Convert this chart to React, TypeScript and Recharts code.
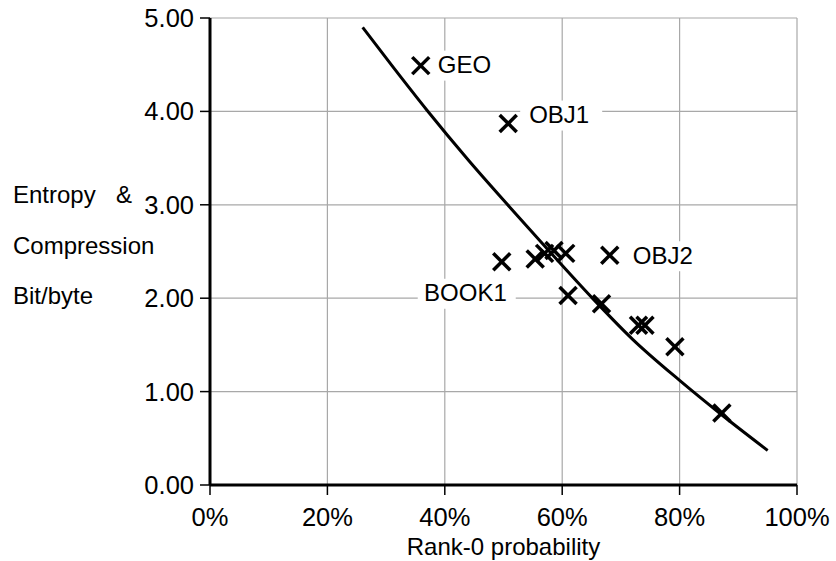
import React from 'react';
import { ScatterChart, Scatter, XAxis, YAxis, CartesianGrid } from 'recharts';

// measured files: rank-0 probability (%) vs entropy / compression (bit/byte)
const rankProb = [35.9, 50.8, 49.7, 55.4, 57.0, 58.6, 60.6, 68.1, 61.0, 66.7, 73.0, 74.1, 79.2, 87.2];
const bitsPerByte = [4.49, 3.87, 2.39, 2.42, 2.48, 2.51, 2.48, 2.46, 2.03, 1.94, 1.71, 1.71, 1.48, 0.77];
const fileNames = ['GEO', 'OBJ1', 'BOOK1', '', '', '', '', 'OBJ2', '', '', '', '', '', ''];

// fitted curve
const fitX = [26, 31, 37, 44, 51, 58, 65, 72, 80, 87, 95];
const fitY = [4.9, 4.49, 4.01, 3.48, 2.98, 2.49, 2.01, 1.56, 1.12, 0.76, 0.37];

const xTicks = [0, 20, 40, 60, 80, 100];
const yTicks = [0, 1, 2, 3, 4, 5];

const points = rankProb.map((x, i) => ({ x, y: bitsPerByte[i], name: fileNames[i] }));
const labelled = points.filter((p) => p.name);
const fitLine = fitX.map((x, i) => ({ x, y: fitY[i] }));

const FONT = '"Liberation Sans", Arial, Helvetica, sans-serif';

// where each name sits relative to its point
const labelPlace: Record<string, { dx: number; dy: number; anchor: 'start' | 'end' }> = {
  GEO: { dx: 17, dy: -1, anchor: 'start' },
  OBJ1: { dx: 21, dy: -9, anchor: 'start' },
  OBJ2: { dx: 23, dy: 0, anchor: 'start' },
  BOOK1: { dx: 5, dy: 31, anchor: 'end' },
};

const Cross = (props: any) => {
  const { cx, cy } = props;
  const s = 8.5;
  return (
    <g>
      <line x1={cx - s} y1={cy - s} x2={cx + s} y2={cy + s} stroke="#000" strokeWidth={3.5} />
      <line x1={cx - s} y1={cy + s} x2={cx + s} y2={cy - s} stroke="#000" strokeWidth={3.5} />
    </g>
  );
};

const NameTag = (props: any) => {
  const { cx, cy, payload } = props;
  const place = labelPlace[payload.name];
  if (!place) return <g />;
  const w = payload.name.length * 16;
  const tx = cx + place.dx;
  const ty = cy + place.dy;
  const left = place.anchor === 'start' ? tx - 9 : tx - w - 9;
  return (
    <g>
      <rect x={left} y={ty - 14} width={w + 18} height={30} fill="#fff" />
      <text x={tx} y={ty} textAnchor={place.anchor} dominantBaseline="central" fontSize={24} fontFamily={FONT} fill="#000">
        {payload.name}
      </text>
    </g>
  );
};

const YTitle = () => (
  <g fontFamily={FONT} fontSize={24} fill="#000">
    <text x={13} y={203}>Entropy</text>
    <text x={116} y={203}>&amp;</text>
    <text x={13} y={254}>Compression</text>
    <text x={13} y={304}>Bit/byte</text>
  </g>
);

const XTitle = (props: any) => {
  const { viewBox } = props;
  return (
    <text x={viewBox.x + viewBox.width / 2} y={555} textAnchor="middle" fontFamily={FONT} fontSize={24} fill="#000">
      Rank-0 probability
    </text>
  );
};

export default function App() {
  return (
    <div style={{ position: 'absolute', left: 0, top: 0, width: 836, height: 561, background: '#fff' }}>
      <ScatterChart width={836} height={561} margin={{ top: 18, right: 39, bottom: 16, left: 0 }}>
        <CartesianGrid stroke="#a8a8a8" strokeWidth={1.2} />
        <XAxis
          type="number"
          dataKey="x"
          domain={[0, 100]}
          ticks={xTicks}
          tickFormatter={(v) => `${v}%`}
          height={60}
          tickSize={10}
          tickMargin={13}
          axisLine={{ stroke: '#000', strokeWidth: 3 }}
          tickLine={{ stroke: '#000', strokeWidth: 1.5 }}
          tick={{ fill: '#000', fontSize: 25.5, fontFamily: FONT }}
          label={{ content: XTitle }}
        />
        <YAxis
          type="number"
          dataKey="y"
          domain={[0, 5]}
          ticks={yTicks}
          tickFormatter={(v) => v.toFixed(2)}
          width={210}
          tickSize={10}
          tickMargin={6}
          axisLine={{ stroke: '#000', strokeWidth: 3 }}
          tickLine={{ stroke: '#000', strokeWidth: 1.5 }}
          tick={{ fill: '#000', fontSize: 25.5, fontFamily: FONT }}
          label={{ content: YTitle }}
        />
        <Scatter data={labelled} shape={NameTag} isAnimationActive={false} />
        <Scatter
          data={fitLine}
          line={{ stroke: '#000', strokeWidth: 3 }}
          lineJointType="monotoneX"
          shape={() => <g />}
          isAnimationActive={false}
        />
        <Scatter data={points} shape={Cross} isAnimationActive={false} />
      </ScatterChart>
    </div>
  );
}
